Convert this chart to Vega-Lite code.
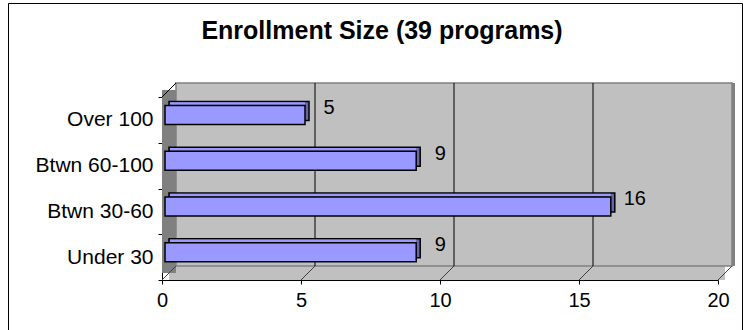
{
  "$schema": "https://vega.github.io/schema/vega-lite/v6.json",
  "width": 734,
  "height": 327,
  "autosize": {"type": "none"},
  "padding": {"left": 8, "top": 3, "right": 1, "bottom": 0},
  "background": "white",
  "config": {"font": "Liberation Sans", "view": {"stroke": "black", "strokeWidth": 1, "fill": "white"}},
  "title": {"text": "Enrollment Size (39 programs)", "fontSize": 25, "fontWeight": "bold", "font": "Liberation Sans", "color": "black", "anchor": "middle", "frame": "group", "dx": 7, "offset": -72, "baseline": "alphabetic"},
  "resolve": {"scale": {"y": "independent"}, "axis": {"y": "independent"}},
  "layer": [
    {
      "data": {"values": [{}]},
      "layer": [
        {
          "mark": {"type": "rect", "fill": "#C0C0C0", "xOffset": 7, "x2Offset": 7, "yOffset": 0, "y2Offset": -14},
          "encoding": {
            "x": {"datum": 0, "type": "quantitative", "scale": {"domain": [0, 20], "range": [154, 710], "nice": false, "zero": false},
              "axis": {"title": null, "values": [0, 5, 10, 15, 20], "domainColor": "black", "tickColor": "black", "tickSize": 4, "labelFontSize": 20, "labelColor": "black", "labelPadding": 6, "labelFont": "Liberation Sans", "labelFlush": false, "offset": -50, "grid": false}},
            "x2": {"datum": 20},
            "y": {"datum": 0, "type": "quantitative", "scale": {"domain": [0, 1], "range": [277, 94], "nice": false, "zero": false}, "axis": null},
            "y2": {"datum": 0}
          }
        },
        {
          "mark": {"type": "rect", "fill": "#C0C0C0", "stroke": "#808080", "strokeWidth": 1.5, "xOffset": 14, "x2Offset": 14, "yOffset": -14, "y2Offset": -14},
          "encoding": {
            "x": {"datum": 0, "type": "quantitative", "scale": {"domain": [0, 20], "range": [154, 710], "nice": false, "zero": false},
              "axis": {"title": null, "values": [0, 5, 10, 15, 20], "domainColor": "black", "tickColor": "black", "tickSize": 4, "labelFontSize": 20, "labelColor": "black", "labelPadding": 6, "labelFont": "Liberation Sans", "labelFlush": false, "offset": -50, "grid": false}},
            "x2": {"datum": 20},
            "y": {"datum": 0, "type": "quantitative", "scale": {"domain": [0, 1], "range": [277, 94], "nice": false, "zero": false}, "axis": null},
            "y2": {"datum": 1}
          }
        },
        {
          "mark": {"type": "rect", "fill": "#808080", "xOffset": 0, "x2Offset": 14, "yOffset": -7, "y2Offset": -7},
          "encoding": {
            "x": {"datum": 0, "type": "quantitative", "scale": {"domain": [0, 20], "range": [154, 710], "nice": false, "zero": false},
              "axis": {"title": null, "values": [0, 5, 10, 15, 20], "domainColor": "black", "tickColor": "black", "tickSize": 4, "labelFontSize": 20, "labelColor": "black", "labelPadding": 6, "labelFont": "Liberation Sans", "labelFlush": false, "offset": -50, "grid": false}},
            "x2": {"datum": 0},
            "y": {"datum": 0, "type": "quantitative", "scale": {"domain": [0, 1], "range": [277, 94], "nice": false, "zero": false}, "axis": null},
            "y2": {"datum": 1}
          }
        },
        {
          "mark": {"type": "rule", "color": "#808080", "strokeWidth": 3, "xOffset": 15.5, "yOffset": -14, "y2Offset": -14},
          "encoding": {
            "x": {"datum": 20, "type": "quantitative", "scale": {"domain": [0, 20], "range": [154, 710], "nice": false, "zero": false},
              "axis": {"title": null, "values": [0, 5, 10, 15, 20], "domainColor": "black", "tickColor": "black", "tickSize": 4, "labelFontSize": 20, "labelColor": "black", "labelPadding": 6, "labelFont": "Liberation Sans", "labelFlush": false, "offset": -50, "grid": false}},
            "y": {"datum": 0, "type": "quantitative", "scale": {"domain": [0, 1], "range": [277, 94], "nice": false, "zero": false}, "axis": null},
            "y2": {"datum": 1}
          }
        },
        {
          "data": {"values": [{"t": 5}, {"t": 10}, {"t": 15}]},
          "mark": {"type": "rule", "color": "black", "strokeWidth": 1, "xOffset": 14, "yOffset": -14, "y2Offset": -14},
          "encoding": {
            "x": {"field": "t", "type": "quantitative", "scale": {"domain": [0, 20], "range": [154, 710], "nice": false, "zero": false},
              "axis": {"title": null, "values": [0, 5, 10, 15, 20], "domainColor": "black", "tickColor": "black", "tickSize": 4, "labelFontSize": 20, "labelColor": "black", "labelPadding": 6, "labelFont": "Liberation Sans", "labelFlush": false, "offset": -50, "grid": false}},
            "y": {"datum": 0, "type": "quantitative", "scale": {"domain": [0, 1], "range": [277, 94], "nice": false, "zero": false}, "axis": null},
            "y2": {"datum": 1}
          }
        },
        {
          "data": {"values": [{"t": 0}, {"t": 5}, {"t": 10}, {"t": 15}, {"t": 20}]},
          "mark": {"type": "rule", "color": "#404040", "strokeWidth": 1, "x2Offset": 14, "y2Offset": -14},
          "encoding": {
            "x": {"field": "t", "type": "quantitative", "scale": {"domain": [0, 20], "range": [154, 710], "nice": false, "zero": false},
              "axis": {"title": null, "values": [0, 5, 10, 15, 20], "domainColor": "black", "tickColor": "black", "tickSize": 4, "labelFontSize": 20, "labelColor": "black", "labelPadding": 6, "labelFont": "Liberation Sans", "labelFlush": false, "offset": -50, "grid": false}},
            "x2": {"field": "t"},
            "y": {"datum": 0, "type": "quantitative", "scale": {"domain": [0, 1], "range": [277, 94], "nice": false, "zero": false}, "axis": null},
            "y2": {"datum": 0}
          }
        },
        {
          "mark": {"type": "rule", "color": "black", "strokeWidth": 1, "x2Offset": 14, "y2Offset": -14},
          "encoding": {
            "x": {"datum": 0, "type": "quantitative", "scale": {"domain": [0, 20], "range": [154, 710], "nice": false, "zero": false},
              "axis": {"title": null, "values": [0, 5, 10, 15, 20], "domainColor": "black", "tickColor": "black", "tickSize": 4, "labelFontSize": 20, "labelColor": "black", "labelPadding": 6, "labelFont": "Liberation Sans", "labelFlush": false, "offset": -50, "grid": false}},
            "x2": {"datum": 0},
            "y": {"datum": 1, "type": "quantitative", "scale": {"domain": [0, 1], "range": [277, 94], "nice": false, "zero": false}, "axis": null},
            "y2": {"datum": 1}
          }
        }
      ]
    },
    {
      "data": {"values": [
        {"cat": "Over 100", "n": 5},
        {"cat": "Btwn 60-100", "n": 9},
        {"cat": "Btwn 30-60", "n": 16},
        {"cat": "Under 30", "n": 9}
      ]},
      "layer": [
        {
          "mark": {"type": "bar", "height": 19, "fill": "#6666A8", "stroke": "black", "strokeWidth": 1.5, "xOffset": 8, "x2Offset": 7, "yOffset": -9},
          "encoding": {
            "y": {"field": "cat", "type": "nominal", "scale": {"domain": ["Over 100", "Btwn 60-100", "Btwn 30-60", "Under 30"], "range": [94, 277], "paddingInner": 0, "paddingOuter": 0},
              "axis": {"title": null, "domainColor": "black", "domainWidth": 1, "tickColor": "black", "tickSize": 4, "tickBand": "extent", "labelFontSize": 21, "labelColor": "black", "labelPadding": 5, "labelFont": "Liberation Sans", "offset": -154, "grid": false}},
            "x": {"field": "n", "type": "quantitative", "scale": {"domain": [0, 20], "range": [154, 710], "nice": false, "zero": false},
              "axis": {"title": null, "values": [0, 5, 10, 15, 20], "domainColor": "black", "tickColor": "black", "tickSize": 4, "labelFontSize": 20, "labelColor": "black", "labelPadding": 6, "labelFont": "Liberation Sans", "labelFlush": false, "offset": -50, "grid": false}},
            "x2": {"datum": 0}
          }
        },
        {
          "mark": {"type": "bar", "height": 2.5, "fill": "#9999FF", "xOffset": 4, "x2Offset": 8, "yOffset": -16.5},
          "encoding": {
            "y": {"field": "cat", "type": "nominal", "scale": {"domain": ["Over 100", "Btwn 60-100", "Btwn 30-60", "Under 30"], "range": [94, 277], "paddingInner": 0, "paddingOuter": 0},
              "axis": {"title": null, "domainColor": "black", "domainWidth": 1, "tickColor": "black", "tickSize": 4, "tickBand": "extent", "labelFontSize": 21, "labelColor": "black", "labelPadding": 5, "labelFont": "Liberation Sans", "offset": -154, "grid": false}},
            "x": {"field": "n", "type": "quantitative", "scale": {"domain": [0, 20], "range": [154, 710], "nice": false, "zero": false},
              "axis": {"title": null, "values": [0, 5, 10, 15, 20], "domainColor": "black", "tickColor": "black", "tickSize": 4, "labelFontSize": 20, "labelColor": "black", "labelPadding": 6, "labelFont": "Liberation Sans", "labelFlush": false, "offset": -50, "grid": false}},
            "x2": {"datum": 0}
          }
        },
        {
          "mark": {"type": "bar", "height": 19, "fill": "#9999FF", "stroke": "black", "strokeWidth": 1.5, "xOffset": 4, "x2Offset": 3, "yOffset": -5},
          "encoding": {
            "y": {"field": "cat", "type": "nominal", "scale": {"domain": ["Over 100", "Btwn 60-100", "Btwn 30-60", "Under 30"], "range": [94, 277], "paddingInner": 0, "paddingOuter": 0},
              "axis": {"title": null, "domainColor": "black", "domainWidth": 1, "tickColor": "black", "tickSize": 4, "tickBand": "extent", "labelFontSize": 21, "labelColor": "black", "labelPadding": 5, "labelFont": "Liberation Sans", "offset": -154, "grid": false}},
            "x": {"field": "n", "type": "quantitative", "scale": {"domain": [0, 20], "range": [154, 710], "nice": false, "zero": false},
              "axis": {"title": null, "values": [0, 5, 10, 15, 20], "domainColor": "black", "tickColor": "black", "tickSize": 4, "labelFontSize": 20, "labelColor": "black", "labelPadding": 6, "labelFont": "Liberation Sans", "labelFlush": false, "offset": -50, "grid": false}},
            "x2": {"datum": 0}
          }
        },
        {
          "mark": {"type": "text", "dx": 28, "dy": -12, "fontSize": 20, "align": "center", "baseline": "middle", "color": "black", "font": "Liberation Sans"},
          "encoding": {
            "y": {"field": "cat", "type": "nominal", "scale": {"domain": ["Over 100", "Btwn 60-100", "Btwn 30-60", "Under 30"], "range": [94, 277], "paddingInner": 0, "paddingOuter": 0},
              "axis": {"title": null, "domainColor": "black", "domainWidth": 1, "tickColor": "black", "tickSize": 4, "tickBand": "extent", "labelFontSize": 21, "labelColor": "black", "labelPadding": 5, "labelFont": "Liberation Sans", "offset": -154, "grid": false}},
            "x": {"field": "n", "type": "quantitative", "scale": {"domain": [0, 20], "range": [154, 710], "nice": false, "zero": false},
              "axis": {"title": null, "values": [0, 5, 10, 15, 20], "domainColor": "black", "tickColor": "black", "tickSize": 4, "labelFontSize": 20, "labelColor": "black", "labelPadding": 6, "labelFont": "Liberation Sans", "labelFlush": false, "offset": -50, "grid": false}},
            "text": {"field": "n", "type": "quantitative"}
          }
        }
      ]
    }
  ]
}
